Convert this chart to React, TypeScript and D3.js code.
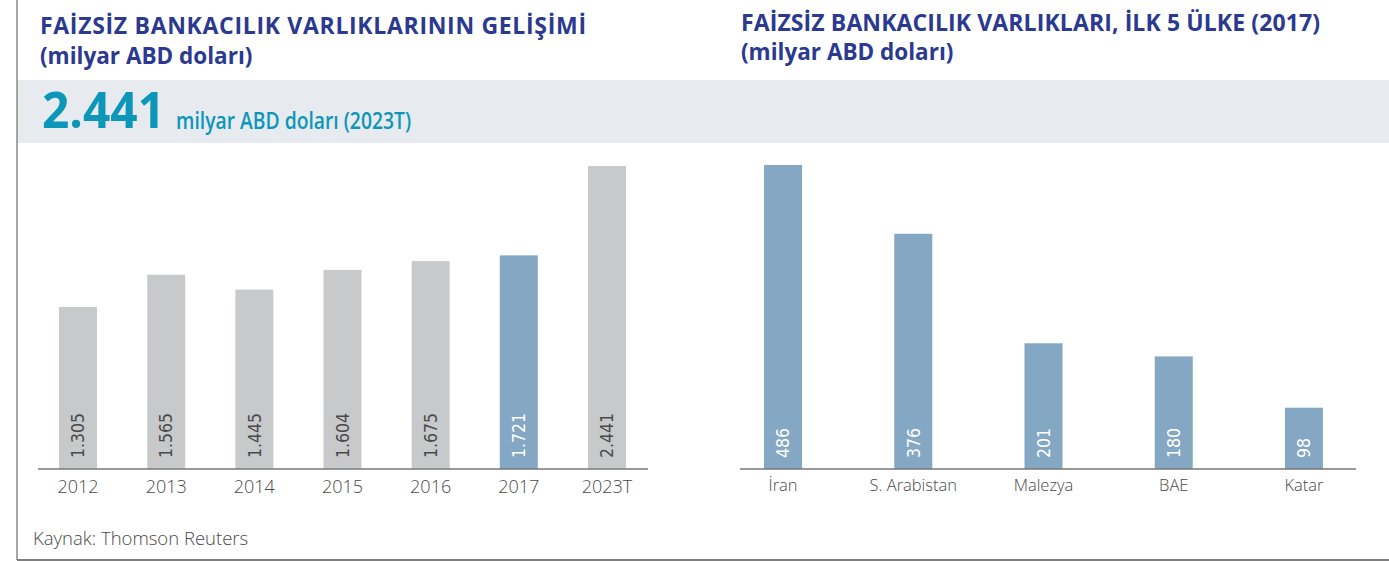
import React, { useEffect } from 'react';
import * as d3 from 'd3';

// left panel: growth of interest-free banking assets
const years = ['2012', '2013', '2014', '2015', '2016', '2017', '2023T'];
const yearValues = [1305, 1565, 1445, 1604, 1675, 1721, 2441];
const yearLabels = ['1.305', '1.565', '1.445', '1.604', '1.675', '1.721', '2.441'];
const highlightYear = '2017';

// right panel: top 5 countries (2017)
const countries = ['İran', 'S. Arabistan', 'Malezya', 'BAE', 'Katar'];
const countryValues = [486, 376, 201, 180, 98];

const leftTitle = ['FAİZSİZ BANKACILIK VARLIKLARININ GELİŞİMİ', '(milyar ABD doları)'];
const rightTitle = ['FAİZSİZ BANKACILIK VARLIKLARI, İLK 5 ÜLKE (2017)', '(milyar ABD doları)'];
const headline = '2.441';
const headlineUnit = 'milyar ABD doları (2023T)';
const source = 'Kaynak: Thomson Reuters';

const W = 1389;
const H = 561;
const BASE = 469;
const NAVY = '#2b3990';
const TEAL = '#0c97b8';
const GREY_BAR = '#c8c9cb';
const BLUE_BAR = '#84a8c3';
const TEXT = '#4a4a4a';
const VALUE_FONT = "'DejaVu Sans Condensed', 'DejaVu Sans', sans-serif";
const LABEL_FONT = "'Open Sans', 'Noto Sans', sans-serif";

const App = () => {
  useEffect(() => {
    document.body.style.margin = '0';
  }, []);

  const xLeft = d3.scaleBand().domain(years).range([41.4, 643.6]).paddingInner(0.569).paddingOuter(0.2);
  const yLeft = d3.scaleLinear().domain([0, 2441]).range([BASE, 166]);

  const xRight = d3.scaleBand().domain(countries).range([738, 1349]).paddingInner(0.708).paddingOuter(0.2);
  const yRight = d3.scaleLinear().domain([0, 486]).range([BASE, 165]);

  const valueLabel = (cx: number, text: string, fill: string) => (
    <text
      transform={`translate(${cx},458) rotate(-90)`}
      dy="0.36em"
      fill={fill}
      style={{ fontFamily: VALUE_FONT, fontSize: 17.5, fontStretch: 'condensed' }}
    >
      {text}
    </text>
  );

  return (
    <svg width={W} height={H} style={{ display: 'block', background: '#fff' }}>
      {/* band behind the headline figure */}
      <rect x={17} y={80} width={W - 17} height={63} fill="#e7eaef" />
      <line x1={17} x2={17} y1={0} y2={560} stroke="#8a8a8a" strokeWidth={1.5} />
      <line x1={17} x2={W} y1={560} y2={560} stroke="#555" strokeWidth={1.5} />

      <g style={{ fontFamily: LABEL_FONT, fontWeight: 700 }} fill={NAVY}>
        <text x={40} y={34} fontSize={23} textLength={546} lengthAdjust="spacing">{leftTitle[0]}</text>
        <text x={40} y={64} fontSize={22.5}>{leftTitle[1]}</text>
        <text x={741} y={31} fontSize={23} textLength={579} lengthAdjust="spacing">{rightTitle[0]}</text>
        <text x={741} y={60} fontSize={22.5}>{rightTitle[1]}</text>
      </g>

      <text
        x={42}
        y={128}
        fill={TEAL}
        textLength={123}
        lengthAdjust="spacingAndGlyphs"
        style={{ fontFamily: LABEL_FONT, fontWeight: 700, fontSize: 50 }}
      >
        {headline}
      </text>
      <text
        x={176}
        y={129}
        fill={TEAL}
        textLength={235}
        lengthAdjust="spacingAndGlyphs"
        style={{ fontFamily: LABEL_FONT, fontWeight: 600, fontSize: 23 }}
      >
        {headlineUnit}
      </text>

      {/* left bars */}
      <g>
        {years.map((yr, i) => {
          const x0 = xLeft(yr) as number;
          const bw = xLeft.bandwidth();
          const hl = yr === highlightYear;
          return (
            <g key={yr}>
              <rect x={x0} y={yLeft(yearValues[i])} width={bw} height={BASE - yLeft(yearValues[i])} fill={hl ? BLUE_BAR : GREY_BAR} />
              {valueLabel(x0 + bw / 2, yearLabels[i], hl ? '#fff' : TEXT)}
              <text x={x0 + bw / 2} y={493} textAnchor="middle" fill={TEXT} style={{ fontFamily: LABEL_FONT, fontSize: 18, fontWeight: 300 }}>
                {yr}
              </text>
            </g>
          );
        })}
        <line x1={38} x2={648} y1={BASE} y2={BASE} stroke="#777" strokeWidth={1.5} />
      </g>

      {/* right bars */}
      <g>
        {countries.map((c, i) => {
          const x0 = xRight(c) as number;
          const bw = xRight.bandwidth();
          return (
            <g key={c}>
              <rect x={x0} y={yRight(countryValues[i])} width={bw} height={BASE - yRight(countryValues[i])} fill={BLUE_BAR} />
              {valueLabel(x0 + bw / 2, String(countryValues[i]), '#fff')}
              <text x={x0 + bw / 2} y={491} textAnchor="middle" fill={TEXT} style={{ fontFamily: LABEL_FONT, fontSize: 16.5, fontWeight: 300 }}>
                {c}
              </text>
            </g>
          );
        })}
        <line x1={740} x2={1356} y1={BASE} y2={BASE} stroke="#777" strokeWidth={1.5} />
      </g>

      <text x={33} y={545} fill={TEXT} style={{ fontFamily: LABEL_FONT, fontSize: 18.5, fontWeight: 300 }}>
        {source}
      </text>
    </svg>
  );
};

export default App;
